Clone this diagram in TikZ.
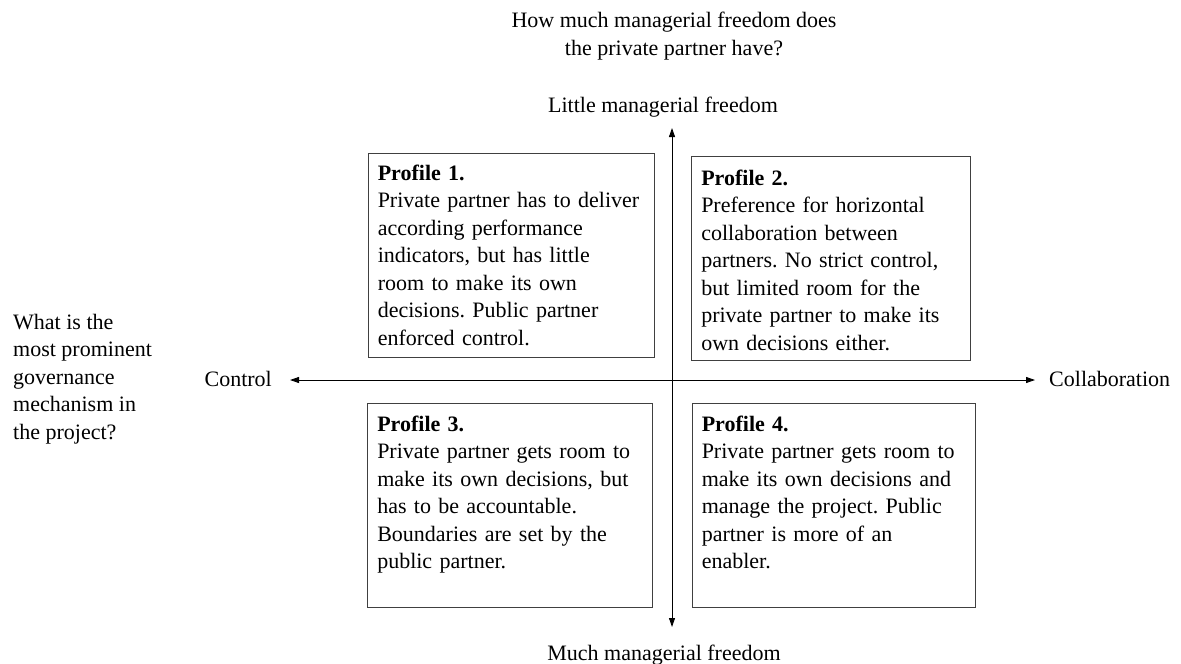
\documentclass[tikz,border=0pt]{standalone}
\usepackage{fontspec}
\setmainfont{Liberation Serif}
\usetikzlibrary{arrows.meta,positioning}
\frenchspacing

\tikzset{
  profile/.style={draw=black!75,line width=0.9pt,inner sep=0pt,minimum height=204pt},
  ptext/.style={inner sep=0pt,align=left,text width=282pt,font=\fontsize{22}{27.5}\selectfont},
  lbl/.style={inner sep=0pt,font=\fontsize{22}{27.5}\selectfont},
  axis/.style={line width=0.9pt,{Triangle[length=9pt,width=6pt]}-{Triangle[length=9pt,width=6pt]}},
}

\begin{document}
\begin{tikzpicture}[x=1pt,y=-1pt]
\useasboundingbox (0,0) rectangle (1181,664);

\node[lbl,anchor=north,align=center] (q1) at (674,12) {How much managerial freedom does\\the private partner have?};
\node[lbl,anchor=base] (little) at (663,112) {Little managerial freedom};
\node[lbl,anchor=base] (much) at (664,660) {Much managerial freedom};
\node[lbl,anchor=north west,align=left] (q2) at (13,314) {What is the\\most prominent\\governance\\mechanism in\\the project?};
\node[lbl,anchor=base east] (ctrl) at (272,386) {Control};
\node[lbl,anchor=base west] (collab) at (1049,386) {Collaboration};

\coordinate (up) at (672,128);
\coordinate (down) at (672,627);
\coordinate (left) at (290,380);
\coordinate (right) at (1035,380);
\path[axis] (down) edge (up) (left) edge (right);

\node[profile,minimum width=286pt] (p1) at (511,255) {};
\node[profile,minimum width=279pt] (p2) at (831,258) {};
\node[profile,minimum width=285pt] (p3) at (510,505) {};
\node[profile,minimum width=283pt] (p4) at (833.5,505) {};

\node[ptext,below right=12pt and 10pt of p1.north west] (t1) {\textbf{Profile 1.}\\Private partner has to deliver\\according performance\\indicators, but has little\\room to make its own\\decisions. Public partner\\enforced control.};
\node[ptext,below right=14pt and 10pt of p2.north west] (t2) {\textbf{Profile 2.}\\Preference for horizontal\\collaboration between\\partners. No strict control,\\but limited room for the\\private partner to make its\\own decisions either.};
\node[ptext,below right=13pt and 10pt of p3.north west] (t3) {\textbf{Profile 3.}\\Private partner gets room to\\make its own decisions, but\\has to be accountable.\\Boundaries are set by the\\public partner.};
\node[ptext,below right=13pt and 10pt of p4.north west] (t4) {\textbf{Profile 4.}\\Private partner gets room to\\make its own decisions and\\manage the project. Public\\partner is more of an\\enabler.};

\end{tikzpicture}
\end{document}
